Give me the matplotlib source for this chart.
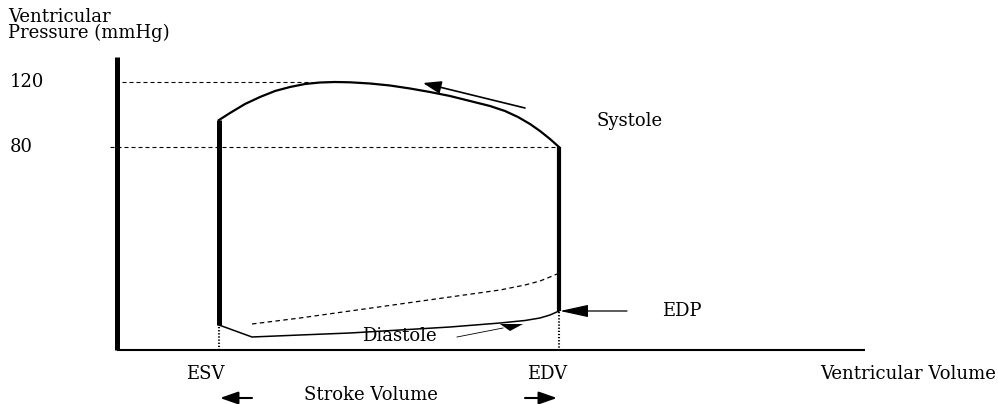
import matplotlib
matplotlib.use("Agg")
import matplotlib.pyplot as plt

# diagram units: x grows to the right, y grows downward (schematic, not to scale)
axis_x = [117, 117, 865]
axis_y = [57, 350, 350]

# pressure reference levels
level_labels = ["120", "80"]
level_y = [82, 147]
level_x0 = [122, 110]
level_x1 = [312, 558]

# volume marks
esv_x, edv_x = 219, 559
esv_top, esv_bottom = 120, 325
edv_top, edv_bottom = 147, 311

# systolic ejection curve
sys_x = [219, 230, 245, 260, 275, 290, 305, 320, 335, 350, 370, 390, 410,
         430, 450, 470, 490, 505, 518, 530, 540, 550, 559]
sys_y = [120, 113, 104, 97, 91, 87, 84, 82.5, 82, 82.3, 83.5, 85.5, 88.5,
         92, 96, 101, 106, 111, 117, 124, 131, 139, 147]

# diastolic filling curve (solid)
dia_x = [219, 252, 300, 350, 400, 450, 500, 525, 540, 550, 559]
dia_y = [325, 337, 335, 333, 330, 327, 323, 320.5, 318, 315, 311]

# alternative filling curve (dashed)
alt_x = [252, 300, 350, 400, 450, 500, 525, 540, 550, 557]
alt_y = [324, 318, 311, 304, 297, 290, 285, 281, 277, 274]

# small triangle marker on diastole
tri_x = [500, 523, 510]
tri_y = [324, 324, 331]

fig = plt.figure(figsize=(9.98, 4.04), dpi=100)
ax = fig.add_axes([0, 0, 1, 1])
ax.set_xlim(0, 998)
ax.set_ylim(404, 0)
ax.axis("off")

font = dict(family="DejaVu Serif", size=13, color="black")

# axes of the diagram
ax.plot(axis_x[:2], axis_y[:2], color="black", lw=3.6, solid_capstyle="butt")
ax.plot(axis_x[1:], axis_y[1:], color="black", lw=1.5, solid_capstyle="butt")

# dashed pressure levels + labels
for lab, y, x0, x1 in zip(level_labels, level_y, level_x0, level_x1):
    ax.plot([x0, x1], [y, y], color="black", lw=0.8, ls=(0, (3.6, 2.7)))
    ax.text(10, y, lab, ha="left", va="center", **font)

# loop
ax.plot([esv_x, esv_x], [esv_top, esv_bottom], color="black", lw=3.6, solid_capstyle="butt")
ax.plot([edv_x, edv_x], [edv_top, edv_bottom], color="black", lw=3.0, solid_capstyle="butt")
ax.plot(sys_x, sys_y, color="black", lw=1.6)
ax.plot(dia_x, dia_y, color="black", lw=1.1)
ax.plot(alt_x, alt_y, color="black", lw=0.9, ls=(0, (3.6, 2.7)))
ax.fill(tri_x, tri_y, color="black", lw=0)

# dotted drop lines to the volume axis
ax.plot([esv_x, esv_x], [esv_bottom + 2, 349], color="black", lw=1.5, ls=(0, (0.6, 0.9)))
ax.plot([edv_x, edv_x], [edv_bottom + 1, 349], color="black", lw=1.5, ls=(0, (0.6, 0.9)))

# arrows
arrow = dict(arrowstyle="-|>,head_length=1.0,head_width=0.35", color="black",
             shrinkA=0, shrinkB=0, mutation_scale=11)
ax.annotate("", xy=(423, 83), xytext=(525, 108), arrowprops=dict(arrow, lw=1.2))
ax.annotate("", xy=(560, 311), xytext=(627, 311),
            arrowprops=dict(arrow, lw=0.9, arrowstyle="-|>,head_length=1.6,head_width=0.35"))
ax.annotate("", xy=(220, 398), xytext=(252, 398), arrowprops=dict(arrow, lw=1.5))
ax.annotate("", xy=(557, 398), xytext=(525, 398), arrowprops=dict(arrow, lw=1.5))
ax.plot([457, 503], [337, 328], color="black", lw=0.6)

# labels
ax.text(8, 25, "Ventricular\nPressure (mmHg)", ha="left", va="center",
        linespacing=0.85, **font)
ax.text(630, 121, "Systole", ha="center", va="center", **font)
ax.text(682, 311, "EDP", ha="center", va="center", **font)
ax.text(399, 336, "Diastole", ha="center", va="center", **font)
ax.text(205, 374, "ESV", ha="center", va="center", **font)
ax.text(547, 374, "EDV", ha="center", va="center", **font)
ax.text(996, 374, "Ventricular Volume", ha="right", va="center", **font)
ax.text(371, 395, "Stroke Volume", ha="center", va="center", **font)

fig.savefig("out.png", dpi=100, facecolor="white")
